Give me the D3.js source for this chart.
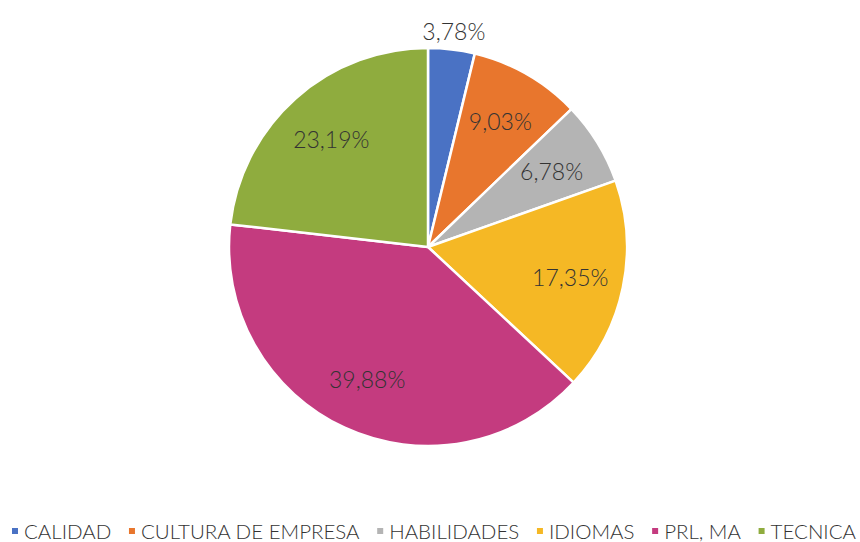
<!DOCTYPE html>
<html><head><meta charset="utf-8">
<script src="https://cdn.jsdelivr.net/npm/d3@7"></script>
<style>body{margin:0;background:#fff}svg{display:block}</style>
</head><body>
<svg id="c" width="860" height="542"></svg>
<script>
const categories = ["CALIDAD","CULTURA DE EMPRESA","HABILIDADES","IDIOMAS","PRL, MA","TECNICA"];
const values = [3.78, 9.03, 6.78, 17.35, 39.88, 23.19];
const labels = ["3,78%","9,03%","6,78%","17,35%","39,88%","23,19%"];
const colors = ["#4a72c4","#e8762d","#b4b4b4","#f5b825","#c43b7f","#8fac3e"];
const outside = [true,false,false,false,false,false];

const W = 860, H = 542, cx = 428, cy = 247, R = 199;
const svg = d3.select("#c");
const g = svg.append("g").attr("transform", `translate(${cx},${cy})`);
const pie = d3.pie().sort(null).value(d => d)(values);
const arc = d3.arc().innerRadius(0).outerRadius(R);
g.selectAll("path.s").data(pie).join("path").attr("class","s")
  .attr("d", arc).attr("fill", (d,i) => colors[i])
  .attr("stroke", "#fff").attr("stroke-width", 2.5).attr("stroke-linejoin","round");

const inArc = d3.arc().innerRadius(R*0.73).outerRadius(R*0.73);
const outArc = d3.arc().innerRadius(R+19).outerRadius(R+19);
const font = "'Lato', 'DejaVu Sans', sans-serif";
g.selectAll("text.l").data(pie).join("text").attr("class","l")
  .attr("transform", (d,i) => `translate(${(outside[i]?outArc:inArc).centroid(d)})`)
  .attr("text-anchor","middle").attr("dominant-baseline","central")
  .attr("font-family", font).attr("font-weight", 300).attr("font-size", 23).attr("fill", "#333")
  .text((d,i) => labels[i]);

// legend
const lg = svg.append("g");
const items = lg.selectAll("g").data(categories).join("g");
items.append("rect").attr("width",6).attr("height",6).attr("fill",(d,i)=>colors[i]);
items.append("text").attr("x",12).attr("y",3).attr("dominant-baseline","central")
  .attr("font-family", font).attr("font-weight", 300).attr("font-size", 20.5).attr("fill","#333").text(d=>d);
let widths = [];
items.each(function(){ widths.push(this.querySelector("text").getComputedTextLength() + 12); });
const x0 = 12, x1 = 856;
const gap = Math.max(6, (x1 - x0 - d3.sum(widths)) / (widths.length - 1));
let x = x0;
items.attr("transform", (d,i) => { const t = `translate(${x},${528})`; x += widths[i] + gap; return t; });
</script>
</body></html>
